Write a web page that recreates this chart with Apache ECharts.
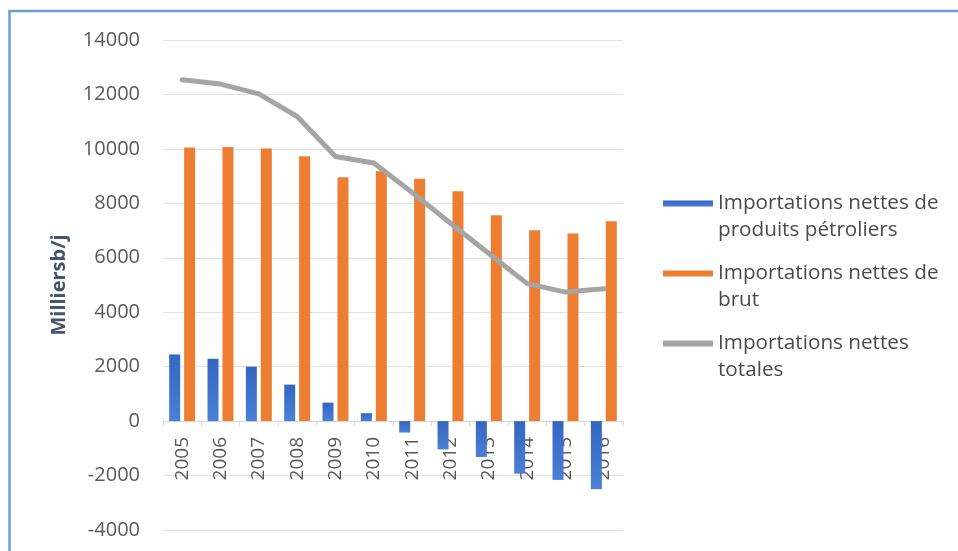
<!DOCTYPE html>
<html>
<head>
<meta charset="utf-8">
<style>
  html, body { margin: 0; padding: 0; background: #ffffff; }
  #chart { width: 958px; height: 551px; }
</style>
<script src="https://cdn.jsdelivr.net/npm/echarts@6/dist/echarts.min.js"></script>
</head>
<body>
<div id="chart"></div>
<script>
// Years on the category axis
const years = ['2005', '2006', '2007', '2008', '2009', '2010', '2011', '2012', '2013', '2014', '2015', '2016'];

// Net imports, thousands of barrels per day
const produitsPetroliers = [2450, 2290, 2000, 1340, 680, 290, -420, -1040, -1320, -1930, -2160, -2500];
const brut = [10050, 10070, 10010, 9730, 8960, 9180, 8900, 8440, 7560, 7010, 6890, 7340];
const totales = [12540, 12380, 12020, 11190, 9720, 9480, 8400, 7270, 6160, 5050, 4740, 4860];

// Y axis ticks
const yMin = -4000;
const yMax = 14000;
const yStep = 2000;

const seriesNames = [
  'Importations nettes de produits pétroliers',
  'Importations nettes de brut',
  'Importations nettes totales'
];
// Legend labels wrap onto two lines; the leading blank line keeps the
// swatch level with the first line of text.
const legendText = {
  'Importations nettes de produits pétroliers': '\nImportations nettes de\nproduits pétroliers',
  'Importations nettes de brut': '\nImportations nettes de\nbrut',
  'Importations nettes totales': '\nImportations nettes\ntotales'
};

const font = '"Open Sans", "Liberation Sans", sans-serif';
const chart = echarts.init(document.getElementById('chart'), null, { renderer: 'canvas' });

chart.setOption({
  animation: false,
  backgroundColor: '#ffffff',
  textStyle: { fontFamily: font },
  graphic: [{
    type: 'rect',
    shape: { x: 9.5, y: 11, width: 960, height: 560 },
    style: { fill: 'none', stroke: '#6a9fd8', lineWidth: 2.5 },
    silent: true
  }],
  grid: { left: 163, right: 335, top: 40, bottom: 21, containLabel: false, outerBoundsMode: 'none' },
  legend: {
    orient: 'vertical',
    left: 658,
    top: 158,
    itemWidth: 50,
    itemHeight: 6,
    itemGap: -11,
    icon: 'rect',
    data: seriesNames,
    formatter: function (name) { return legendText[name]; },
    textStyle: {
      fontFamily: font,
      fontSize: 20.7,
      lineHeight: 27,
      color: '#4a4a4a'
    }
  },
  xAxis: {
    type: 'category',
    data: years,
    z: 1,
    boundaryGap: true,
    axisLine: { onZero: true, lineStyle: { color: '#d9d9d9', width: 1 } },
    axisTick: { show: true, length: 5, alignWithLabel: false, lineStyle: { color: '#d9d9d9' } },
    axisLabel: {
      rotate: 90,
      // labels sit just under the zero line, behind the negative bars
      margin: -93,
      fontFamily: font,
      fontSize: 19,
      color: '#595959'
    },
    splitLine: { show: false }
  },
  yAxis: {
    type: 'value',
    min: yMin,
    max: yMax,
    interval: yStep,
    name: 'Milliersb/j',
    nameLocation: 'middle',
    nameGap: 94,
    nameRotate: 90,
    nameTextStyle: {
      fontFamily: font,
      fontSize: 20,
      fontWeight: 'bold',
      color: '#44546a'
    },
    axisLine: { show: false },
    axisTick: { show: false },
    axisLabel: {
      margin: 23,
      fontFamily: font,
      fontSize: 20,
      color: '#595959',
      formatter: function (v) { return String(v); }
    },
    splitLine: { show: true, lineStyle: { color: '#e0e0e0', width: 1 } }
  },
  series: [
    {
      name: seriesNames[0],
      type: 'bar',
      data: produitsPetroliers,
      z: 5,
      barWidth: 11,
      barGap: '36%',
      itemStyle: {
        color: new echarts.graphic.LinearGradient(0, 0, 0, 1, [
          { offset: 0, color: '#3566c0' },
          { offset: 1, color: '#4a80d6' }
        ])
      }
    },
    {
      name: seriesNames[1],
      type: 'bar',
      data: brut,
      z: 5,
      barWidth: 11,
      itemStyle: { color: '#ed7d31' }
    },
    {
      name: seriesNames[2],
      type: 'line',
      data: totales,
      symbol: 'none',
      smooth: false,
      z: 6,
      lineStyle: { color: '#a5a5a5', width: 5, cap: 'round', join: 'round' },
      itemStyle: { color: '#a5a5a5' }
    }
  ]
});
</script>
</body>
</html>
